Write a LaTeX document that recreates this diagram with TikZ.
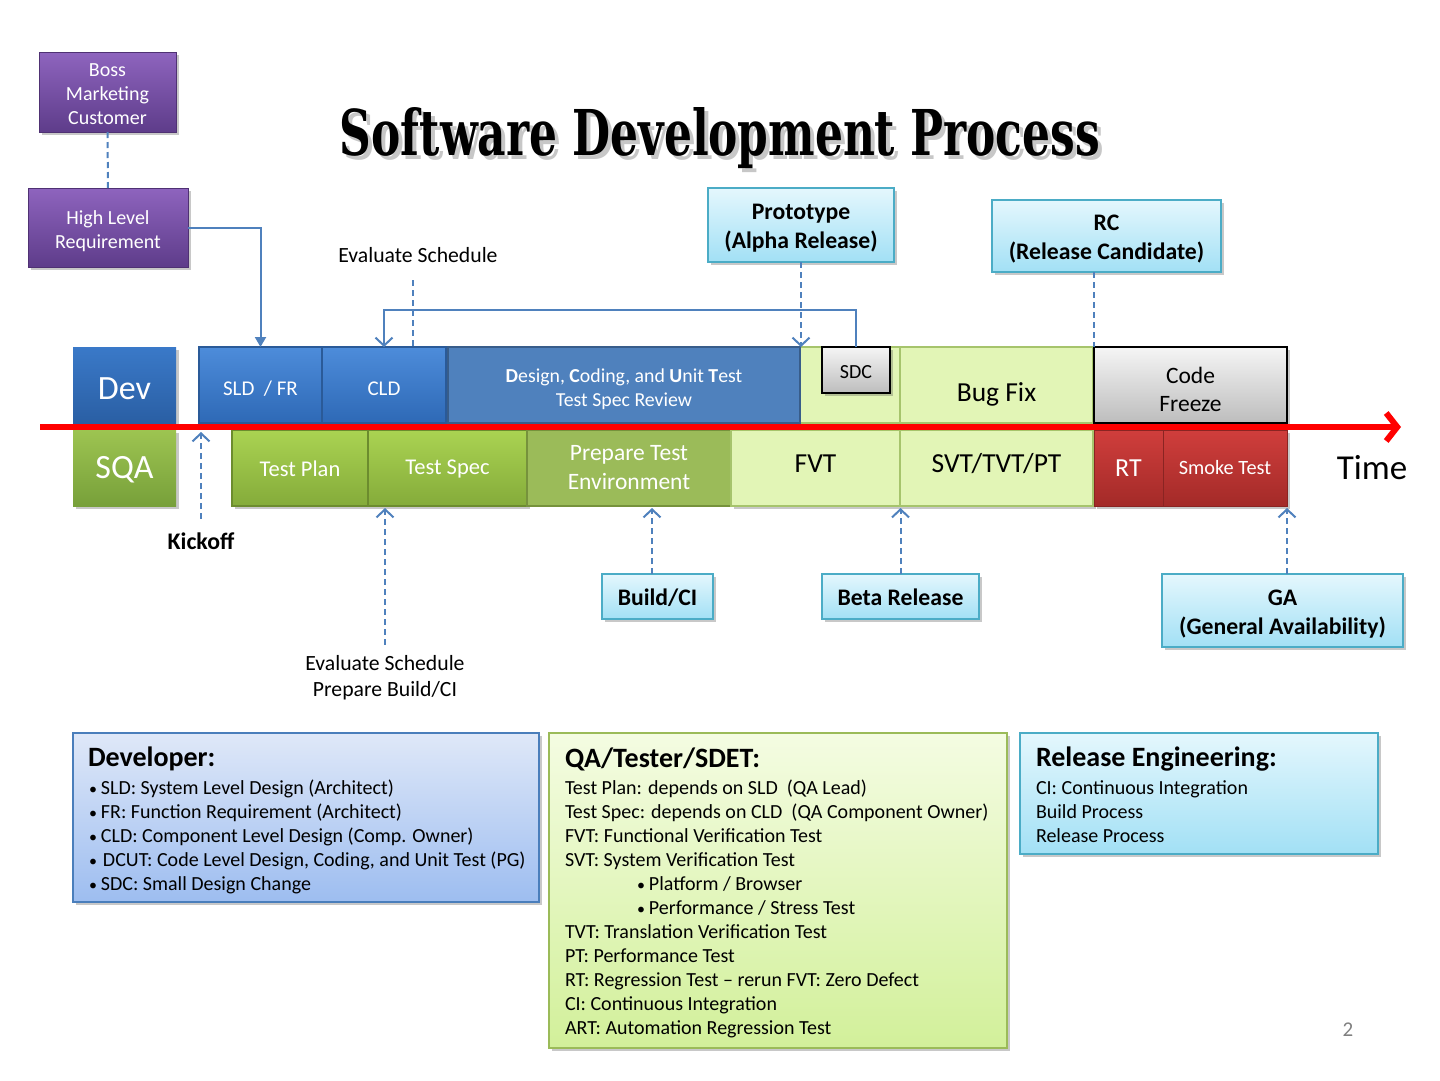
\documentclass[tikz,border=0pt]{standalone}
\usepackage{fontspec}
\setmainfont{Carlito}
\newfontfamily\titlefont{DejaVu Serif}
\usetikzlibrary{arrows.meta,shadows,calc}
\newcommand\fsz[2]{\fontsize{#1}{#2}\selectfont}
\newcommand\dnr[2]{\raisebox{-#1}[\height][\depth]{#2}}
\newcommand\bul{{\fontsize{16}{16}\selectfont\textbullet}\kern4pt}
\definecolor{purT}{HTML}{8E64BE}
\definecolor{purB}{HTML}{5E3C8A}
\definecolor{purD}{HTML}{4F3173}
\definecolor{devT}{HTML}{3A79C8}
\definecolor{devB}{HTML}{2A5FA4}
\definecolor{bevT}{HTML}{4D8CDA}
\definecolor{bevB}{HTML}{2E69B6}
\definecolor{bevD}{HTML}{2A5A98}
\definecolor{dcut}{HTML}{4F81BD}
\definecolor{dcutD}{HTML}{385D8A}
\definecolor{sqaT}{HTML}{9DC451}
\definecolor{sqaB}{HTML}{77A03A}
\definecolor{grT}{HTML}{AAD352}
\definecolor{grB}{HTML}{84AB3A}
\definecolor{grD}{HTML}{6C8C2E}
\definecolor{pte}{HTML}{9BBB59}
\definecolor{pteD}{HTML}{76923C}
\definecolor{lgr}{HTML}{E2F5B6}
\definecolor{lgrD}{HTML}{A6C46C}
\definecolor{gyT}{HTML}{F5F5F5}
\definecolor{gyB}{HTML}{BDBDBD}
\definecolor{rdT}{HTML}{D03E3C}
\definecolor{rdB}{HTML}{A32A28}
\definecolor{rdD}{HTML}{8A2422}
\definecolor{cyT}{HTML}{E4F7FD}
\definecolor{cyB}{HTML}{A2E0F5}
\definecolor{cyD}{HTML}{4BACC6}
\definecolor{lbT}{HTML}{DFE8F8}
\definecolor{lbB}{HTML}{9DBDF0}
\definecolor{lbD}{HTML}{4A7EBB}
\definecolor{qaT}{HTML}{F4FCE2}
\definecolor{qaB}{HTML}{D2F09A}
\definecolor{lineblue}{HTML}{4F81BD}
\definecolor{timered}{HTML}{FF0000}
\begin{document}
\begin{tikzpicture}[x=1pt,y=-1pt,
  shad/.style={drop shadow={shadow xshift=2.5pt,shadow yshift=-2.5pt,opacity=0.3,fill=black!70}},
  bx/.style={inner sep=0pt,outer sep=0pt,align=center},
  plain/.style={inner sep=0pt,outer sep=0pt,align=center},
  purplebox/.style={bx,shad,top color=purT,bottom color=purB,draw=purD,line width=1pt},
  purpletext/.style={plain,text=white,font=\fsz{20}{24}},
  devbox/.style={bx,shad,top color=devT,bottom color=devB,text=white,font=\fsz{34}{40}},
  sqabox/.style={bx,shad,top color=sqaT,bottom color=sqaB,text=white,font=\fsz{34}{40}},
  bluebev/.style={bx,shad,top color=bevT,bottom color=bevB,draw=bevD,line width=1.2pt,text=white,font=\fsz{21}{26}},
  dcutbox/.style={bx,fill=dcut,draw=dcutD,line width=2.5pt},
  dcuttext/.style={plain,text=white,font=\fsz{19.8}{24}},
  greenbev/.style={bx,shad,top color=grT,bottom color=grB,draw=grD,line width=1.2pt,text=white,font=\fsz{22.5}{29}},
  ptebox/.style={bx,fill=pte,draw=pteD,line width=2.5pt,text=white,font=\fsz{23.5}{29}},
  lightbox/.style={bx,shad,fill=lgr,draw=lgrD,line width=1.2pt,text=black,font=\fsz{27.5}{30}},
  graybox/.style={bx,shad,top color=gyT,bottom color=gyB,draw=black,line width=1.3pt,text=black},
  redbox/.style={bx,shad,top color=rdT,bottom color=rdB,draw=rdD,line width=1pt,text=white},
  callout/.style={bx,shad,top color=cyT,bottom color=cyB,draw=cyD,line width=1.5pt,text=black,font=\fsz{23.7}{29}\bfseries},
  callouttext/.style={plain,text=black,font=\fsz{23.7}{29}\bfseries},
  legend/.style={bx,shad,line width=1.5pt},
  dashline/.style={draw=lineblue,line width=2pt,dash pattern=on 6pt off 4pt},
  conn/.style={draw=lineblue,line width=2pt},
  vtip/.tip={Straight Barb[length=8pt,width=17pt,line width=2pt]}
]
\useasboundingbox (0,0) rectangle (1440,1080);
\fill[white] (0,0) rectangle (1440,1080);

% title
\node[plain,anchor=base,text=black!40,opacity=0.55] (titleshadow) at (724,159)
  {\resizebox{760pt}{48pt}{\titlefont\bfseries Software Development Process}};
\node[plain,anchor=base] (title) at (720,155)
  {\resizebox{760pt}{48pt}{\titlefont\bfseries Software Development Process}};

% top-left purple boxes
\node[purplebox,minimum width=137pt,minimum height=80pt] (boss) at (107.5,92) {};
\node[purpletext] (bosst) at (107.5,94) {Boss\\Marketing\\Customer};
\node[purplebox,minimum width=160pt,minimum height=79pt] (hlr) at (108,227.5) {};
\node[purpletext] (hlrt) at (108,231) {High Level\\Requirement};

% callouts
\node[callout,minimum width=186pt,minimum height=74pt] (proto) at (801,225) {};
\node[callouttext] (protot) at (801,228) {Prototype\\(Alpha Release)};
\node[callout,minimum width=229pt,minimum height=72pt] (rc) at (1106.5,236) {};
\node[callouttext] (rct) at (1106.5,239) {RC\\(Release Candidate)};
\node[callout,minimum width=111pt,minimum height=45pt] (build) at (657.5,596.5) {\dnr{1.5pt}{Build/CI}};
\node[callout,minimum width=157pt,minimum height=45pt] (beta) at (900.5,596.5) {\dnr{1pt}{Beta Release}};
\node[callout,minimum width=241pt,minimum height=73pt] (ga) at (1282.5,610.5) {};
\node[callouttext] (gat) at (1282.5,614) {GA\\(General Availability)};

% light green region above FVT
\path[fill=lgr,draw=lgrD,line width=1.2pt] (800,347) rectangle (900,423);

% top row
\node[devbox,minimum width=103pt,minimum height=76pt] (dev) at (124.5,385) {\dnr{4pt}{Dev}};
\node[bluebev,minimum width=123pt,minimum height=76pt] (sld) at (260.5,385) {\dnr{4pt}{SLD\ \ / FR}};
\node[bluebev,minimum width=124pt,minimum height=76pt] (cld) at (384,385) {\dnr{4pt}{CLD}};
\node[dcutbox,minimum width=352pt,minimum height=76pt] (dcut) at (624,385) {};
\node[dcuttext] (dcutt) at (624,389)
  {\textbf{D}esign, \textbf{C}oding, and \textbf{U}nit \textbf{T}est\\Test Spec Review};
\node[graybox,minimum width=68pt,minimum height=46pt,font=\fsz{20}{23}] (sdc) at (856,370) {\dnr{2pt}{SDC}};
\node[lightbox,minimum width=193pt,minimum height=76pt] (bugfix) at (996.5,385) {\dnr{9pt}{Bug Fix}};
\node[graybox,minimum width=193pt,minimum height=76pt] (freeze) at (1190.5,385) {};
\node[plain,font=\fsz{23.5}{28}] (freezet) at (1190.5,389) {Code\\Freeze};

% bottom row
\node[sqabox,minimum width=103pt,minimum height=76pt] (sqa) at (124.5,468) {\dnr{2pt}{SQA}};
\node[greenbev,minimum width=136pt,minimum height=76pt] (tplan) at (300,468) {\dnr{1pt}{Test Plan}};
\node[greenbev,minimum width=159pt,minimum height=76pt] (tspec) at (447.5,468) {\dnr{1pt}{Test Spec}};
\node[ptebox,minimum width=204pt,minimum height=76pt] (pte) at (629,468) {Prepare Test\\Environment};
\node[lightbox,minimum width=169pt,minimum height=76pt] (fvt) at (815.5,468) {\dnr{-4pt}{FVT}};
\node[lightbox,minimum width=193pt,minimum height=76pt] (svt) at (996.5,468) {\dnr{-4pt}{SVT/TVT/PT}};
\node[redbox,minimum width=69pt,minimum height=76pt,font=\fsz{26}{30}] (rt) at (1128.5,468) {RT};
\node[redbox,minimum width=124pt,minimum height=76pt,font=\fsz{20.3}{23}] (smoke) at (1225,468) {Smoke Test};

% time axis
\coordinate (tl0) at (40,427);
\coordinate (tl1) at (1401,427);
\draw[timered,line width=6pt,-{Straight Barb[length=11pt,width=28pt,line width=6pt]}] (tl0) -- (tl1);
\node[plain,font=\fsz{35}{40}] (time) at (1372,468) {Time};

% labels
\node[plain,font=\fsz{21.7}{26}] (evt) at (418,255) {Evaluate Schedule};
\node[plain,font=\fsz{21.7}{26}] (evb) at (385,678) {Evaluate Schedule\\Prepare Build/CI};
\node[plain,font=\fsz{23.8}{26}\bfseries] (kick) at (201,541) {Kickoff};
\node[plain,font=\fsz{21}{26},text=black!50] (pg) at (1348,1030) {2};

% connectors
\draw[dashline] (boss.south) -- (hlr.north);
\draw[conn,-{Triangle[length=10pt,width=11pt]}] (hlr.east) -| (sld.north);
\draw[conn,-vtip] (sdc.north) -- ++(0,-37) -| (cld.north);
\coordinate (evtl) at (413,280);
\draw[dashline] (evtl) -- (evtl |- cld.north);
\draw[dashline,-vtip] (proto.south) -- (proto.south |- dcut.north);
\draw[dashline] (freeze.north west |- rc.south) -- (freeze.north west);
\coordinate (kicktip) at (201,432);
\draw[dashline,-vtip,shorten <=14pt] (kick.north) -- (kicktip);
\draw[dashline,-vtip,shorten <=11pt] (evb.north) -- ($(evb.north |- tspec.south)+(0,2)$);
\draw[dashline,-vtip] (build.north -| 652,0) -- ($(build.north -| 652,0)!1!(652,508)$);
\draw[dashline,-vtip] (beta.north) -- ($(beta.north |- fvt.south)+(0,2)$);
\draw[dashline,-vtip] (smoke.south east |- ga.north) -- ($(smoke.south east)+(0,2)$);

% legends
\node[legend,top color=lbT,bottom color=lbB,draw=lbD,minimum width=466pt,minimum height=169pt] (devleg) at (306,817.5) {};
\node[legend,top color=qaT,bottom color=qaB,draw=pte,minimum width=458pt,minimum height=315pt] (qaleg) at (778,890.5) {};
\node[legend,top color=cyT,bottom color=cyB,draw=cyD,minimum width=358pt,minimum height=121pt] (releg) at (1199,793.5) {};

\node[plain,anchor=west,font=\fsz{28}{32}\bfseries] (devtitle) at (88,759) {Developer:};
\node[plain,anchor=north west,align=left,font=\fsz{20}{24}] (devbody) at (89,780)
  {\bul SLD: System Level Design (Architect)\\
   \bul FR: Function Requirement (Architect)\\
   \bul CLD: Component Level Design (Comp. Owner)\\
   \bul\kern2pt DCUT: Code Level Design, Coding, and Unit Test (PG)\\
   \bul SDC: Small Design Change};

\node[plain,anchor=west,font=\fsz{28}{32}\bfseries] (qatitle) at (565,759) {QA/Tester/SDET:};
\node[plain,anchor=north west,align=left,font=\fsz{20}{24}] (qabody) at (565,780)
  {Test Plan: depends on SLD\ \ (QA Lead)\\
   Test Spec: depends on CLD\ \ (QA Component Owner)\\
   FVT: Functional Verification Test\\
   SVT: System Verification Test\\
   \hspace*{72pt}\bul Platform / Browser\\
   \hspace*{72pt}\bul Performance / Stress Test\\
   TVT: Translation Verification Test\\
   PT: Performance Test\\
   RT: Regression Test \textendash\ rerun FVT: Zero Defect\\
   CI: Continuous Integration\\
   ART: Automation Regression Test};

\node[plain,anchor=west,font=\fsz{28}{32}\bfseries] (retitle) at (1036,759) {Release Engineering:};
\node[plain,anchor=north west,align=left,font=\fsz{20}{24}] (rebody) at (1036,781)
  {CI: Continuous Integration\\
   Build Process\\
   Release Process};
\end{tikzpicture}
\end{document}
